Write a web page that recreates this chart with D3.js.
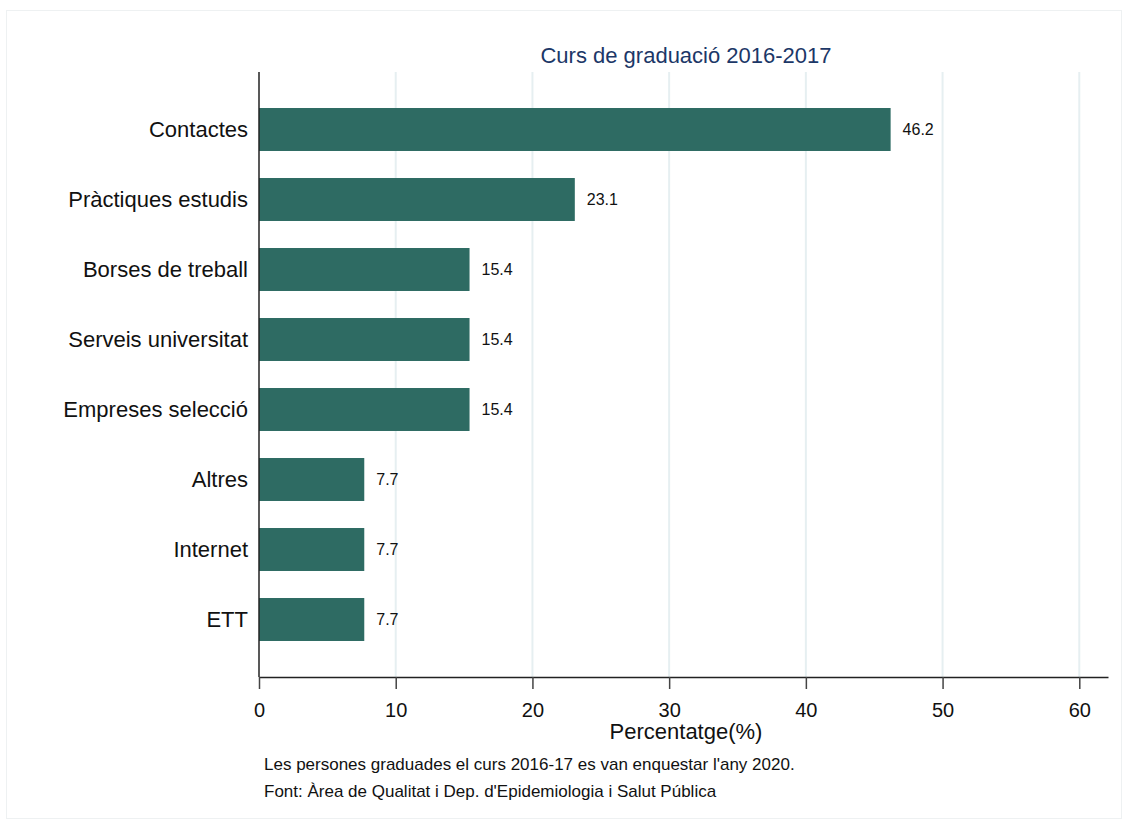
<!DOCTYPE html>
<html>
<head>
<meta charset="utf-8">
<script src="https://cdn.jsdelivr.net/npm/d3@7"></script>
<style>
  body { margin: 0; background: #fff; }
  text { font-family: Arial, "Liberation Sans", sans-serif; }
</style>
</head>
<body>
<div id="chart"></div>
<script>
const categories= ['Contactes', 'Pràctiques estudis', 'Borses de treball', 'Serveis universitat',
  'Empreses selecció', 'Altres', 'Internet', 'ETT'];
const values= [46.2, 23.1, 15.4, 15.4, 15.4, 7.7, 7.7, 7.7];
const xTicks= [0, 10, 20, 30, 40, 50, 60];
const title= 'Curs de graduació 2016-2017';
const xLabel= 'Percentatge(%)';
const notes= ["Les persones graduades el curs 2016-17 es van enquestar l'any 2020.",
  "Font: Àrea de Qualitat i Dep. d'Epidemiologia i Salut Pública"];

const W= 1128, H= 825;
const FONT= 'Arial, "Liberation Sans", sans-serif';

const svg= d3.select('#chart').append('svg')
  .attr('width', W).attr('height', H);

svg.append('rect')
  .attr('x', 6.5).attr('y', 10.5)
  .attr('width', 1115).attr('height', 808)
  .attr('fill', '#fff').attr('stroke', '#eef1f2');

const x= d3.scaleLinear().domain([0, 62.1]).range([259, 1108]);
const y= d3.scaleBand().domain(categories).range([94.5, 654.5])
  .paddingInner(0.386).paddingOuter(0.193);

// grid
svg.append('g').selectAll('line').data(xTicks.slice(1)).join('line')
  .attr('x1', d => x(d)).attr('x2', d => x(d))
  .attr('y1', 72).attr('y2', 677)
  .attr('stroke', '#e6eff1').attr('stroke-width', 2);

// bars
svg.append('g').selectAll('rect').data(values).join('rect')
  .attr('x', x(0))
  .attr('y', (d, i) => y(categories[i]))
  .attr('width', d => x(d)-x(0))
  .attr('height', y.bandwidth())
  .attr('fill', '#2e6b63');

// value labels
svg.append('g').selectAll('text').data(values).join('text')
  .attr('x', d => x(d)+12)
  .attr('y', (d, i) => y(categories[i])+y.bandwidth()/2)
  .attr('dy', '0.35em')
  .attr('font-size', 16)
  .attr('fill', '#111')
  .text(d => d.toFixed(1));

// x axis
const xAx= svg.append('g')
  .attr('transform', 'translate(0,677)')
  .call(d3.axisBottom(x).tickValues(xTicks).tickSize(12).tickPadding(14).tickSizeOuter(0));
xAx.select('.domain').attr('stroke', '#222').attr('stroke-width', 1.5);
xAx.selectAll('.tick line').attr('stroke', '#444').attr('stroke-width', 1.5);
xAx.selectAll('.tick text').attr('font-size', 20).attr('fill', '#111')
  .style('font-family', FONT);

// y axis
const yAx= svg.append('g')
  .attr('transform', 'translate(259,0)')
  .call(d3.axisLeft(y).tickSize(0).tickPadding(11));
yAx.select('.domain').attr('stroke', '#222').attr('stroke-width', 1.5)
  .attr('d', 'M0,72V677');
yAx.selectAll('.tick text').attr('font-size', 22).attr('fill', '#111')
  .style('font-family', FONT);

svg.append('text')
  .attr('x', 686).attr('y', 63)
  .attr('text-anchor', 'middle')
  .attr('font-size', 22)
  .attr('fill', '#1c3767')
  .text(title);

svg.append('text')
  .attr('x', 686).attr('y', 739)
  .attr('text-anchor', 'middle')
  .attr('font-size', 22)
  .attr('fill', '#111')
  .text(xLabel);

svg.append('g').selectAll('text').data(notes).join('text')
  .attr('x', 264)
  .attr('y', (d, i) => 770+i*27)
  .attr('font-size', 17)
  .attr('fill', '#111')
  .text(d => d);
</script>
</body>
</html>
